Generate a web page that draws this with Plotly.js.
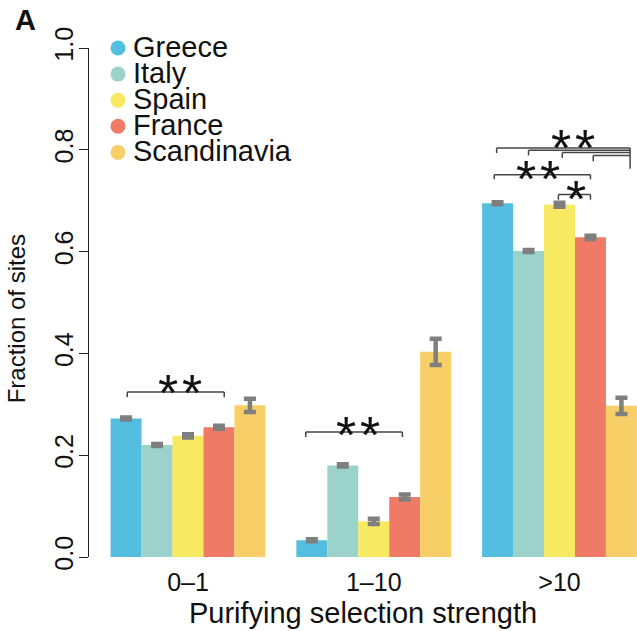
<!DOCTYPE html>
<html>
<head>
<meta charset="utf-8">
<script src="https://cdn.plot.ly/plotly-3.0.1.min.js"></script>
<style>html,body{margin:0;padding:0;background:#fff;}#chart{width:637px;height:631px;}</style>
</head>
<body>
<div id="chart"></div>
<script>
// ---- data ----
const categories = ['0\u20131', '1\u201310', '>10'];
const countries = ['Greece', 'Italy', 'Spain', 'France', 'Scandinavia'];
const greece = [0.272, 0.033, 0.695];
const italy = [0.220, 0.180, 0.601];
const spain = [0.238, 0.070, 0.692];
const france = [0.255, 0.118, 0.628];
const scandinavia = [0.298, 0.403, 0.297];
const greeceErr = [0.002, 0.002, 0.002];
const italyErr = [0.002, 0.002, 0.002];
const spainErr = [0.003, 0.005, 0.004];
const franceErr = [0.003, 0.005, 0.003];
const scandinaviaErr = [0.013, 0.026, 0.016];
const yTickVals = [0, 0.2, 0.4, 0.6, 0.8, 1.0];
const yTickText = ['0.0', '0.2', '0.4', '0.6', '0.8', '1.0'];

// ---- styles ----
const colors = ['#53BEE0', '#9BD3CA', '#F7E962', '#EF7A66', '#F8CF66'];
const FONT = 'Liberation Sans, Arial, Helvetica, sans-serif';
const series = [greece, italy, spain, france, scandinavia];
const errs = [greeceErr, italyErr, spainErr, franceErr, scandinaviaErr];

const traces = countries.map((name, i) => ({
  type: 'bar', name: name, x: categories, y: series[i],
  marker: {color: colors[i], line: {width: 0}},
  error_y: {type: 'data', array: errs[i], visible: true, color: '#7F7F7F', thickness: 4.5, width: 6},
  showlegend: false
}));

// significance brackets
const bw = 1 / 6;
const shapes = [];
const lineStyle = {color: '#444', width: 1.5};
function bracket(xl, xr, y, drop, leftTick, rightTick) {
  shapes.push({type: 'line', xref: 'x', yref: 'y', x0: xl, x1: xr, y0: y, y1: y, line: lineStyle});
  if (leftTick) shapes.push({type: 'line', xref: 'x', yref: 'y', x0: xl, x1: xl, y0: y, y1: y - drop, line: lineStyle});
  if (rightTick) shapes.push({type: 'line', xref: 'x', yref: 'y', x0: xr, x1: xr, y0: y, y1: y - drop, line: lineStyle});
}
bracket(-0.327, 0.195, 0.324, 0.010, true, true);
bracket(0.634, 1.154, 0.2456, 0.010, true, true);
bracket(2 - 0.006, 2 + bw, 0.712, 0.010, true, true);
bracket(2 - 2 * bw - 0.018, 2 + bw, 0.751, 0.009, true, true);
// Multi-comparison vs Scandinavia
const xRight = 2.38;
bracket(2 - 2 * bw - 0.005, xRight, 0.8035, 0.010, true, false);
bracket(2 - bw, xRight, 0.799, 0.010, true, false);
bracket(2 + 0.015, xRight, 0.7945, 0.0105, true, false);
bracket(2 + bw + 0.015, xRight, 0.789, 0.0116, true, false);
shapes.push({type: 'line', xref: 'x', yref: 'y', x0: xRight, x1: xRight, y0: 0.8035, y1: 0.763, line: lineStyle});

const annotations = [];
function stars(x, y, n) {
  for (let k = 0; k < n; k++) {
    annotations.push({xref: 'x', yref: 'y', x: x, y: y, text: '*', showarrow: false,
      xanchor: 'center', yanchor: 'middle', yshift: -12.5, xshift: (k - (n - 1) / 2) * 23.6,
      font: {family: FONT, size: 52, color: '#111'}});
  }
}
stars(-0.043, 0.347, 2);
stars(0.915, 0.265, 2);
stars(2.089, 0.727, 1);
stars(1.884, 0.7676, 2);
stars(2.074, 0.8285, 2);

// legend (drawn manually)
countries.forEach((name, i) => {
  const py = 47.7 + i * 26.1;
  const yp = 1 - (py - 47.7) / 509;
  shapes.push({type: 'circle', xref: 'paper', yref: 'paper', xsizemode: 'pixel', ysizemode: 'pixel',
    xanchor: (118 - 89) / 548, yanchor: yp, x0: -7.5, x1: 7.5, y0: -7.5, y1: 7.5,
    fillcolor: colors[i], line: {width: 0}});
  annotations.push({xref: 'paper', yref: 'paper', x: (131 - 89) / 548, y: yp, text: name,
    showarrow: false, xanchor: 'left', yanchor: 'middle', yshift: 1.5,
    font: {family: FONT, size: 29, color: '#111'}});
});

// panel label and y title
annotations.push({xref: 'paper', yref: 'paper', x: (25 - 89) / 548, y: 1 + (47.7 - 20) / 509,
  text: '<b>A</b>', showarrow: false, xanchor: 'center', yanchor: 'middle',
  font: {family: FONT, size: 29, color: '#111'}});
annotations.push({xref: 'paper', yref: 'paper', x: (16 - 89) / 548, y: 1 - (319 - 47.7) / 509,
  text: 'Fraction of sites', textangle: -90, showarrow: false, xanchor: 'center', yanchor: 'middle',
  font: {family: FONT, size: 24, color: '#111'}});

const layout = {
  width: 637, height: 631,
  margin: {l: 89, r: 0, t: 47.7, b: 74.3, pad: 0},
  paper_bgcolor: '#fff', plot_bgcolor: '#fff',
  font: {family: FONT, color: '#111'},
  barmode: 'group', bargap: 1 / 6, bargroupgap: 0,
  showlegend: false,
  xaxis: {
    type: 'category', range: [(89 - 188) / 185.75, (637 - 188) / 185.75],
    showline: false, ticks: '', showgrid: false, zeroline: false,
    tickfont: {family: FONT, size: 25, color: '#111'},
    ticklabelstandoff: 8,
    title: {text: 'Purifying selection strength', font: {family: FONT, size: 29, color: '#111'}, standoff: 7},
    fixedrange: true
  },
  yaxis: {
    range: [0, 1], tickvals: yTickVals, ticktext: yTickText, tickangle: -90,
    ticks: 'outside', ticklen: 9, tickwidth: 1, tickcolor: '#222',
    ticklabelstandoff: -4,
    showline: true, linecolor: '#222', linewidth: 1, showgrid: false, zeroline: false,
    tickfont: {family: FONT, size: 25, color: '#111'},
    fixedrange: true
  },
  shapes: shapes,
  annotations: annotations
};

Plotly.newPlot('chart', traces, layout, {displayModeBar: false, staticPlot: true});
</script>
</body>
</html>
